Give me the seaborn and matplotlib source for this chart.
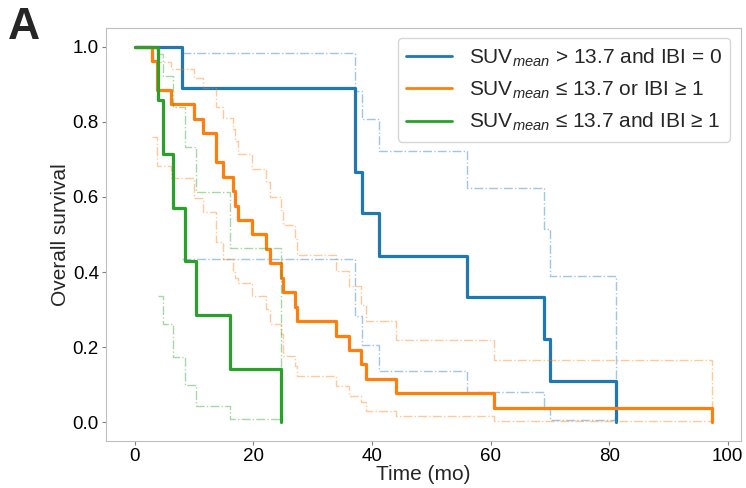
import numpy as np
import pandas as pd
import matplotlib
matplotlib.use("Agg")
import matplotlib.pyplot as plt
import seaborn as sns

# Kaplan-Meier curves (time in months)
group_labels = [r"SUV$_{mean}$ > 13.7 and IBI = 0",
                r"SUV$_{mean}$ ≤ 13.7 or IBI ≥ 1",
                r"SUV$_{mean}$ ≤ 13.7 and IBI ≥ 1"]

blue_t = [0, 8.0, 37.1, 38.3, 41.1, 56.0, 69.0, 70.0, 81.2]
blue_s = [1.0, 0.889, 0.667, 0.556, 0.444, 0.333, 0.222, 0.111, 0.0]
blue_ci_t = [8.0, 37.1, 38.3, 41.1, 56.0, 69.0, 70.0, 81.2]
blue_hi = [0.982, 0.882, 0.807, 0.721, 0.624, 0.514, 0.39, 0.0]
blue_lo = [0.434, 0.283, 0.206, 0.137, 0.08, 0.035, 0.007, 0.0]

orange_t = [0, 2.9, 3.7, 6.1, 9.9, 11.5, 13.7, 14.9, 16.5, 16.9, 17.4, 19.7,
            22.2, 22.75, 24.7, 25.0, 27.0, 27.35, 33.9, 36.2, 38.2, 39.0,
            44.1, 60.5, 97.3]
orange_s = [1.0, 0.962, 0.885, 0.846, 0.808, 0.769, 0.692, 0.654, 0.615,
            0.577, 0.538, 0.5, 0.462, 0.423, 0.385, 0.346, 0.308, 0.269,
            0.231, 0.192, 0.154, 0.115, 0.077, 0.038, 0.0]
orange_ci_t = orange_t[1:]
orange_hi = [0.995, 0.96, 0.94, 0.917, 0.89, 0.84, 0.81, 0.78, 0.75, 0.713,
             0.674, 0.64, 0.601, 0.565, 0.525, 0.487, 0.445, 0.403, 0.362,
             0.312, 0.27, 0.22, 0.166, 0.0]
orange_lo = [0.76, 0.683, 0.65, 0.598, 0.56, 0.479, 0.436, 0.40, 0.385,
             0.372, 0.337, 0.301, 0.261, 0.235, 0.177, 0.15, 0.124, 0.097,
             0.071, 0.053, 0.031, 0.016, 0.004, 0.0]

green_t = [0, 3.9, 4.8, 6.4, 8.5, 10.4, 16.0, 24.7]
green_s = [1.0, 0.857, 0.714, 0.571, 0.429, 0.286, 0.143, 0.0]
green_ci_t = [3.9, 4.8, 6.4, 8.5, 10.4, 16.0, 24.7]
green_hi = [0.98, 0.922, 0.838, 0.734, 0.612, 0.465, 0.0]
green_lo = [0.337, 0.261, 0.173, 0.099, 0.044, 0.009, 0.0]

sns.set_style("white")
plt.rcParams["font.family"] = ["Liberation Sans", "DejaVu Sans"]
plt.rcParams["mathtext.fontset"] = "custom"
plt.rcParams["mathtext.rm"] = "Liberation Sans"
plt.rcParams["mathtext.it"] = "Liberation Sans:italic"
plt.rcParams["axes.edgecolor"] = "0.75"
plt.rcParams["xtick.bottom"] = True
plt.rcParams["ytick.left"] = True
plt.rcParams["xtick.color"] = "0.5"
plt.rcParams["ytick.color"] = "0.5"

fig = plt.figure(figsize=(7.46, 4.88), dpi=100)
ax = fig.add_axes([0.142, 0.096, 0.851, 0.847])

colors = sns.color_palette("tab10", 3)
groups = [(blue_t, blue_s, blue_ci_t, blue_hi, blue_lo),
          (orange_t, orange_s, orange_ci_t, orange_hi, orange_lo),
          (green_t, green_s, green_ci_t, green_hi, green_lo)]

for (t, s, ct, hi, lo), col, lab in zip(groups, colors, group_labels):
    for band in (hi, lo):
        sns.lineplot(x=ct, y=band, ax=ax, color=col, lw=1.0, alpha=0.42,
                     linestyle="-.", drawstyle="steps-post",
                     estimator=None, sort=False)
    sns.lineplot(x=t, y=s, ax=ax, color=col, lw=2.3, label=lab,
                 drawstyle="steps-post", estimator=None, sort=False)

ax.set_xlim(-4.87, 102.2)
ax.set_ylim(-0.05, 1.05)
ax.set_xticks([0, 20, 40, 60, 80, 100])
ax.set_yticks([0.0, 0.2, 0.4, 0.6, 0.8, 1.0])
ax.tick_params(labelsize=13.5, labelcolor="black", length=3, pad=2)
ax.set_xlabel("Time (mo)", fontsize=15, labelpad=0)
ax.set_ylabel("Overall survival", fontsize=15, labelpad=2)

handles, labs = ax.get_legend_handles_labels()
leg = ax.legend(handles[:3], labs[:3], loc="upper right", fontsize=15,
                frameon=True, handlelength=2.2)
for h in leg.get_lines():
    h.set_linewidth(2.0)

fig.text(0.01, 0.985, "A", fontsize=32, fontweight="bold", va="top", ha="left")

fig.savefig("out.png", dpi=100)
